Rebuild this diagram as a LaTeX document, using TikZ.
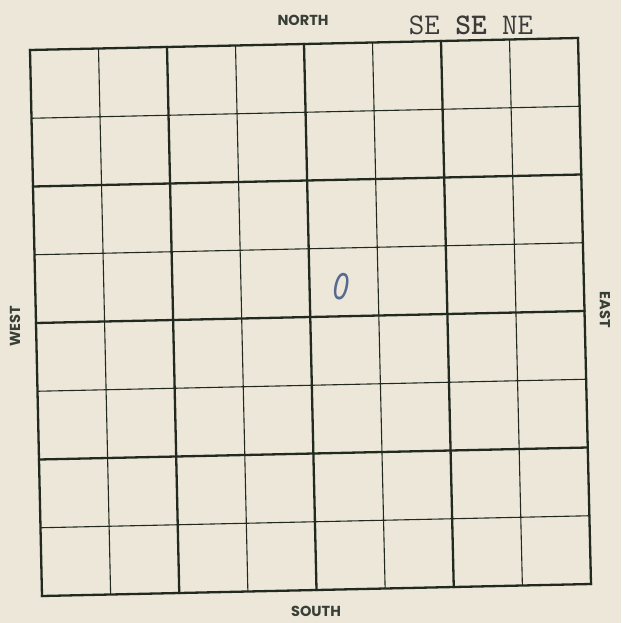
\documentclass[tikz,border=0pt]{standalone}
\usepackage{fontspec}
\newfontfamily\labelfont{Poppins}
\newfontfamily\penfont{DejaVu Sans}
\usetikzlibrary{calc}
\definecolor{paper}{HTML}{ECE7D9}
\definecolor{ink}{HTML}{222A20}
\definecolor{pen}{HTML}{56698F}
\definecolor{type}{HTML}{3A3A3A}
\tikzset{
  thinline/.style={draw=ink, line width=1.1pt},
  thickline/.style={draw=ink, line width=2.3pt, line cap=rect},
  dirlabel/.style={font=\labelfont\fontsize{14.5}{16}\selectfont\bfseries, text=ink!90, inner sep=0pt},
}
\begin{document}
\begin{tikzpicture}[x=1pt,y=-1pt]
  \useasboundingbox (0,0) rectangle (621,623);
  \fill[paper] (0,0) rectangle (621,623);
  \coordinate (TL) at (30,50);
  \coordinate (TR) at (578,38);
  \coordinate (BL) at (42,596);
  \coordinate (BR) at (591,584);
  % thin lines
  \foreach \i in {1,3,5,7} {
    \draw[thinline] ($(TL)!\i/8!(TR)$) -- ($(BL)!\i/8!(BR)$);
    \draw[thinline] ($(TL)!\i/8!(BL)$) -- ($(TR)!\i/8!(BR)$);
  }
  % thick lines
  \foreach \i in {0,2,4,6,8} {
    \draw[thickline] ($(TL)!\i/8!(TR)$) -- ($(BL)!\i/8!(BR)$);
    \draw[thickline] ($(TL)!\i/8!(BL)$) -- ($(TR)!\i/8!(BR)$);
  }
  % labels
  \node[dirlabel] (north) at (303,20) {NORTH};
  \node[dirlabel] (south) at (316,611) {SOUTH};
  \node[dirlabel, rotate=90] (west) at (15,326) {WEST};
  \node[dirlabel, rotate=-90] (east) at (605,310) {EAST};
  \node[font=\ttfamily\fontsize{30}{32}\selectfont, text=type, inner sep=0pt] (typed) at (471,25) {SE \textbf{SE} NE};
  \node[font=\penfont\itshape\fontsize{36}{38}\selectfont, text=pen, inner sep=0pt, xscale=0.72, rotate=-6] (zero) at (342,287) {0};
\end{tikzpicture}
\end{document}
